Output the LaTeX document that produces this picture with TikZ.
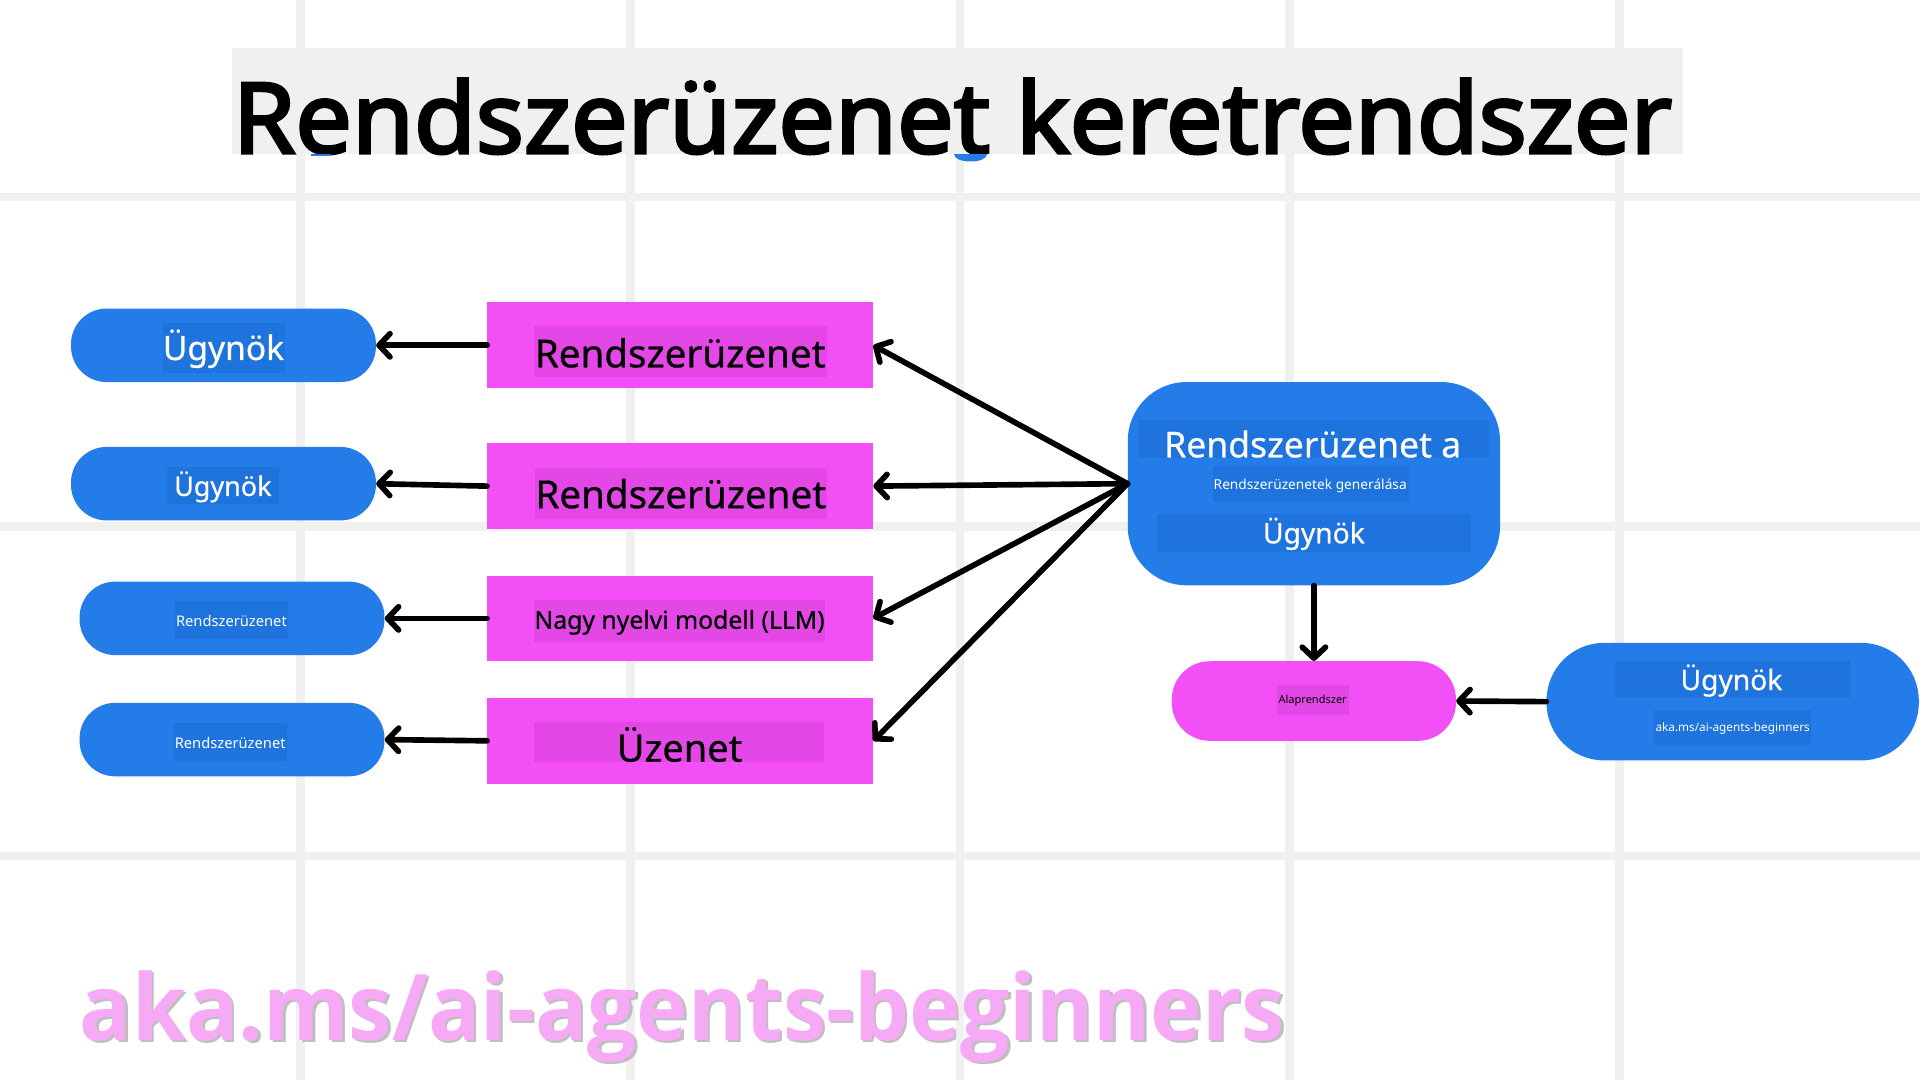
\documentclass[tikz,border=0pt]{standalone}
\usepackage{fontspec}
\setmainfont{Noto Sans}
\newfontfamily\titlefont{Noto Sans}[FakeBold=3]
\newfontfamily\labfont{Noto Sans}[FakeBold=0.6]
\newfontfamily\akafont{Open Sans}
\usetikzlibrary{arrows.meta}
\definecolor{gridc}{RGB}{240,240,240}
\definecolor{bluec}{RGB}{35,124,231}
\definecolor{blueinner}{RGB}{30,115,220}
\definecolor{magc}{RGB}{242,80,246}
\definecolor{maginner}{RGB}{227,72,231}
\definecolor{akapink}{RGB}{246,170,246}
\begin{document}
\begin{tikzpicture}[x=1pt,y=-1pt,
  pillb/.style={fill=bluec, rounded corners=29pt, minimum width=249pt, minimum height=60pt, inner sep=0pt},
  magbox/.style={fill=magc, minimum width=315pt, minimum height=70pt, inner sep=0pt},
  bgb/.style={fill=blueinner, inner sep=0pt},
  bgm/.style={fill=maginner, inner sep=0pt},
  wtxt/.style={text=white, inner sep=0pt, anchor=base},
  ktxt/.style={text=black, inner sep=0pt, anchor=base},
  conn/.style={draw=black, line width=4.6pt, line cap=round,
    -{Straight Barb[length=9pt, width=19pt, line cap=round, line join=round]}},
  fs/.style={font=\fontsize{#1}{#1}\selectfont},
  lfs/.style={font=\labfont\fontsize{#1}{#1}\selectfont}]
\useasboundingbox (0,0) rectangle (1568,882);
\fill[white] (0,0) rectangle (1568,882);
% grid
\foreach \gx in {245.5,514.8,784,1053.2,1322.4}
  \fill[gridc] (\gx-3.5,0) rectangle (\gx+3.5,882);
\foreach \gy in {161,430,699}
  \fill[gridc] (0,\gy-3.5) rectangle (1568,\gy+3.5);
% title
\fill[gridc] (189.5,39.5) rectangle (1374.5,126);
\node[ktxt, anchor=base west, xscale=1.025, font=\titlefont\fontsize{80}{80}\selectfont] (title) at (190,125) {Rendszerüzenet keretrendszer};
\fill[bluec] (779,126) -- (806,126) .. controls (806,134) and (779,134) .. cycle;
\fill[bluec] (254,125.5) rectangle (270,127.5);
% left pills
\node[pillb] (b1) at (182.5,282) {};
\node[pillb] (b2) at (182.5,395) {};
\node[pillb] (b3) at (189.5,505) {};
\node[pillb] (b4) at (189.5,604) {};
\node[bgb, minimum width=100pt, minimum height=41pt] (b1bg) at (183,284) {};
\node[wtxt, lfs=27.4] (b1t) at (182.5,294) {Ügynök};
\node[bgb, minimum width=92pt, minimum height=30pt] (b2bg) at (182,396.7) {};
\node[wtxt, lfs=22] (b2t) at (182,405) {Ügynök};
\node[bgb, minimum width=92pt, minimum height=31pt] (b3bg) at (189,506.4) {};
\node[wtxt, fs=12] (b3t) at (189,511.8) {Rendszerüzenet};
\node[bgb, minimum width=92.5pt, minimum height=30.5pt] (b4bg) at (188.3,606) {};
\node[wtxt, fs=12] (b4t) at (188,611) {Rendszerüzenet};
% magenta boxes
\node[magbox] (m1) at (555.5,282) {};
\node[magbox] (m2) at (555.5,397) {};
\node[magbox] (m3) at (555.5,505) {};
\node[magbox] (m4) at (555.5,605) {};
\node[bgm, minimum width=239pt, minimum height=42pt] (m1bg) at (555.5,287) {};
\node[ktxt, lfs=31.5] (m1t) at (555.5,300) {Rendszerüzenet};
\node[bgm, minimum width=238pt, minimum height=42pt] (m2bg) at (556,403) {};
\node[ktxt, lfs=31.5] (m2t) at (556,415) {Rendszerüzenet};
\node[bgm, minimum width=238pt, minimum height=34pt] (m3bg) at (555,507) {};
\node[ktxt, lfs=20.2] (m3t) at (555,513.5) {Nagy nyelvi modell (LLM)};
\node[bgm, minimum width=237pt, minimum height=32pt] (m4bg) at (554.5,606) {};
\node[ktxt, lfs=31] (m4t) at (555,622) {Üzenet};
% big blue box
\node[fill=bluec, rounded corners=48pt, minimum width=304pt, minimum height=166pt, inner sep=0pt] (big) at (1073,395) {};
\node[bgb, minimum width=286pt, minimum height=31pt] (g1bg) at (1072.7,358.7) {};
\node[wtxt, lfs=29] (g1t) at (1072,373.5) {Rendszerüzenet a};
\node[bgb, minimum width=160pt, minimum height=29pt] (g2bg) at (1070.5,395.4) {};
\node[wtxt, fs=11.2] (g2t) at (1070,399.6) {Rendszerüzenetek generálása};
\node[bgb, minimum width=256pt, minimum height=31pt] (g3bg) at (1073,434.9) {};
\node[wtxt, lfs=23] (g3t) at (1073,443.7) {Ügynök};
% pink pill
\node[fill=magc, rounded corners=31pt, minimum width=232pt, minimum height=65pt, inner sep=0pt] (pink) at (1073,572.5) {};
\node[bgm, minimum width=59pt, minimum height=25pt] (pbg) at (1072.4,571.7) {};
\node[ktxt, fs=9] (pt) at (1072,574.4) {Alaprendszer};
% right pill
\node[fill=bluec, rounded corners=47pt, minimum width=304pt, minimum height=96pt, inner sep=0pt] (rp) at (1415,573) {};
\node[bgb, minimum width=191.5pt, minimum height=30.5pt] (r1bg) at (1414.8,555) {};
\node[wtxt, lfs=23] (r1t) at (1414,563.5) {Ügynök};
\node[bgb, minimum width=128pt, minimum height=28.4pt] (r2bg) at (1415,594.2) {};
\node[wtxt, fs=9.6] (r2t) at (1415,597.5) {aka.ms/ai-agents-beginners};
% connectors
\draw[conn] (m1.west) -- (b1.east);
\draw[conn] (m2.west) -- (b2.east);
\draw[conn] (m3.west) -- (b3.east);
\draw[conn] (m4.west) -- (b4.east);
\draw[conn] (big.west) -- (m1.east);
\draw[conn] (big.west) -- (m2.east);
\draw[conn] (big.west) -- (m3.east);
\draw[conn] (big.west) -- (m4.east);
\draw[conn] (big.south) -- (pink.north);
\draw[conn] (rp.west) -- (pink.east);
% footer
\node[anchor=base west, inner sep=0pt, xscale=0.947, text=black!25, font=\akafont\bfseries\fontsize{75}{75}\selectfont] (akash) at (67,851.5) {aka.ms/ai-agents-beginners};
\node[anchor=base west, inner sep=0pt, xscale=0.947, text=akapink, font=\akafont\bfseries\fontsize{75}{75}\selectfont] (aka) at (65,849.4) {aka.ms/ai-agents-beginners};
\end{tikzpicture}
\end{document}
